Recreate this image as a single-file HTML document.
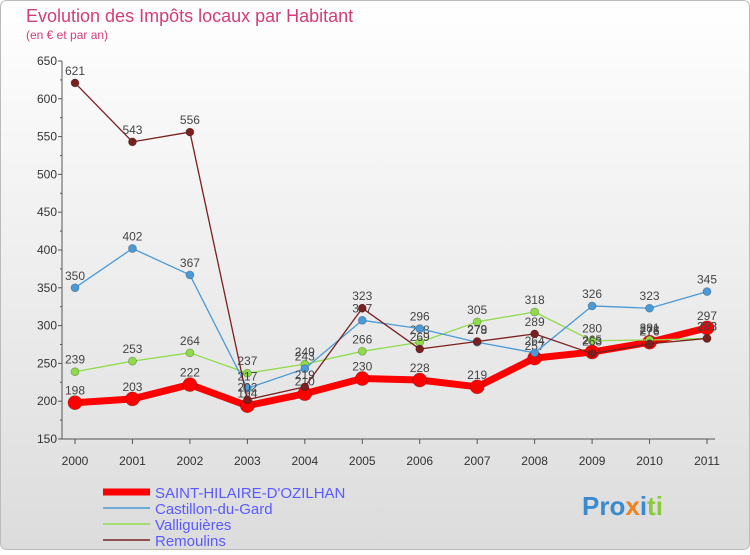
<!DOCTYPE html>
<html><head><meta charset="utf-8"><style>
body{margin:0;background:#fff;font-family:"Liberation Sans",sans-serif}
</style></head><body>
<svg id="c" width="750" height="550" xmlns="http://www.w3.org/2000/svg">
<defs><linearGradient id="bg" x1="0" y1="0" x2="0" y2="1"><stop offset="0" stop-color="#ffffff"/><stop offset="1" stop-color="#dcdcdc"/></linearGradient></defs>
<rect x="0.5" y="0.5" width="749" height="549" rx="6" fill="url(#bg)" stroke="#bbb"/>
<text x="26" y="22" font-size="18" fill="#d23c78">Evolution des Impôts locaux par Habitant</text>
<text x="26" y="39" font-size="12" fill="#d23c78">(en € et par an)</text>
<g id="axes"></g><g id="series"></g>
<g>
<line x1="103" y1="492" x2="150" y2="492" stroke="#f00" stroke-width="7"/>
<text x="155" y="498" font-size="15" fill="#5a5aff">SAINT-HILAIRE-D'OZILHAN</text>
<line x1="103" y1="508" x2="150" y2="508" stroke="#4a9ad8" stroke-width="1.5"/>
<text x="155" y="514" font-size="15" fill="#5a5aff">Castillon-du-Gard</text>
<line x1="103" y1="524" x2="150" y2="524" stroke="#8fdc4a" stroke-width="1.5"/>
<text x="155" y="530" font-size="15" fill="#5a5aff">Valliguières</text>
<line x1="103" y1="540" x2="150" y2="540" stroke="#7a2020" stroke-width="1.5"/>
<text x="155" y="546" font-size="15" fill="#5a5aff">Remoulins</text>
</g>
<text x="582" y="515" font-size="26" font-weight="bold"><tspan fill="#3a8ad0">Pro</tspan><tspan fill="#f08020">x</tspan><tspan fill="#3a8ad0">i</tspan><tspan fill="#8cc83c">ti</tspan></text>
</svg>
<script>
const years=[2000,2001,2002,2003,2004,2005,2006,2007,2008,2009,2010,2011];
const yTicks=[150,200,250,300,350,400,450,500,550,600,650];
const saint=[198,203,222,194,210,230,228,219,257,265,278,297];
const castillon=[350,402,367,217,243,307,296,278,264,326,323,345];
const valli=[239,253,264,237,249,266,278,305,318,280,281,283];
const remoulins=[621,543,556,202,219,323,269,279,289,263,276,283];
const NS="http://www.w3.org/2000/svg";
const X=i=>75+i*(707-75)/(years.length-1);
const Y=v=>439-(v-150)*(439-61)/500;
function mk(t,a,p){const e=document.createElementNS(NS,t);for(const k in a)e.setAttribute(k,a[k]);p.appendChild(e);return e;}
const ax=document.getElementById('axes');
let l=mk('line',{x1:62,y1:61,x2:62,y2:439,stroke:'#555'},ax);


l=mk('line',{x1:62,y1:439,x2:715,y2:439,stroke:'#555'},ax);


yTicks.forEach(v=>{const t=mk('text',{x:57,y:Y(v)+4,'font-size':12,'text-anchor':'end',fill:'#333'},ax);t.textContent=v;


mk('line',{x1:58,y1:Y(v),x2:62,y2:Y(v),stroke:'#555'},ax);
if(v<650)mk('line',{x1:60,y1:Y(v+25),x2:62,y2:Y(v+25),stroke:'#555'},ax);});
years.forEach((y,i)=>{const t=mk('text',{x:X(i),y:465,'font-size':12,'text-anchor':'middle',fill:'#333'},ax);t.textContent=y;


mk('line',{x1:X(i),y1:439,x2:X(i),y2:444,stroke:'#555'},ax);});
const sg=document.getElementById('series');
function draw(d,col,w,r,name){const g=mk('g',{},sg);


mk('polyline',{points:d.map((v,i)=>X(i)+','+Y(v)).join(' '),fill:'none',stroke:col,'stroke-width':w,'stroke-linejoin':'round'},g);
d.forEach((v,i)=>{const c=mk('circle',{cx:X(i),cy:Y(v),r:r,fill:col,stroke:'rgba(0,0,0,0.3)','stroke-width':0.7},g);


const t=mk('text',{x:X(i),y:Y(v)-8,'font-size':12,'text-anchor':'middle',fill:'#444'},g);t.textContent=v;

});}
draw(saint,'#ff0000',7,7,'saint-hilaire-line');
draw(valli,'#8fdc4a',1.3,4,'valliguieres-line');
draw(castillon,'#4a9ad8',1.3,4,'castillon-line');
draw(remoulins,'#7a2020',1.3,4,'remoulins-line');
</script>
</body></html>
